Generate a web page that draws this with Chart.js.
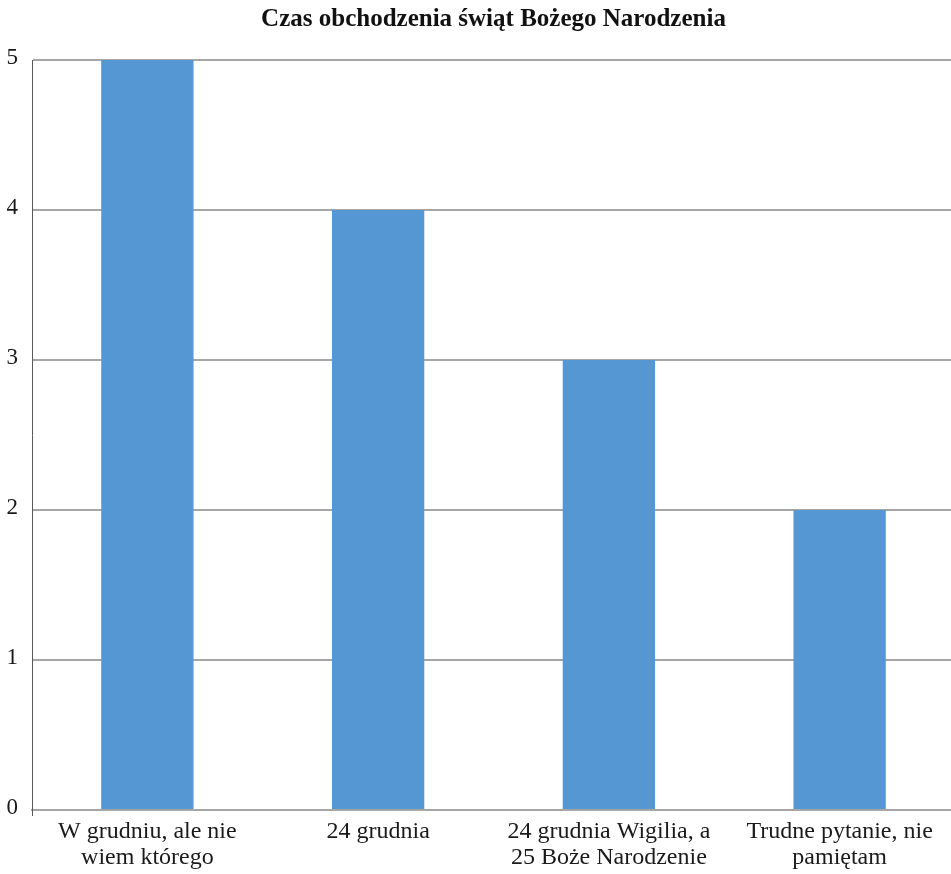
<!DOCTYPE html>
<html lang="pl">
<head>
<meta charset="utf-8">
<title>Czas obchodzenia świąt Bożego Narodzenia</title>
<script src="https://cdn.jsdelivr.net/npm/chart.js@4/dist/chart.umd.min.js"></script>
<style>
  html, body { margin: 0; padding: 0; background: #ffffff; overflow: hidden; }
  #wrap { width: 955px; height: 874px; }
</style>
</head>
<body>
<div id="wrap"><canvas id="chart" width="955" height="874"></canvas></div>
<script>
// Survey answers and their counts
const categories = [
  ['W grudniu, ale nie', 'wiem którego'],
  ['24 grudnia'],
  ['24 grudnia Wigilia, a', '25 Boże Narodzenie'],
  ['Trudne pytanie, nie', 'pamiętam']
];
const counts = [5, 4, 3, 2];
const chartTitle = 'Czas obchodzenia świąt Bożego Narodzenia';

const serif = "'Liberation Serif', 'Times New Roman', serif";

// Centre the title over the plot area rather than the whole canvas
const titleOverPlot = {
  id: 'titleOverPlot',
  afterLayout(chart) {
    const t = chart.titleBlock;
    if (t) {
      t.left = chart.chartArea.left;
      t.right = chart.chartArea.right;
      t.width = t.right - t.left;
    }
  }
};

new Chart(document.getElementById('chart'), {
  type: 'bar',
  data: {
    labels: categories,
    datasets: [{
      data: counts,
      backgroundColor: '#5597d3',
      borderWidth: 0,
      categoryPercentage: 1,
      barPercentage: 0.4
    }]
  },
  options: {
    responsive: false,
    animation: false,
    layout: { padding: 0 },
    plugins: {
      legend: { display: false },
      tooltip: { enabled: false },
      title: {
        display: true,
        text: chartTitle,
        color: '#111111',
        font: { family: serif, size: 25, weight: 'bold', lineHeight: 1.2 },
        padding: { top: 5, bottom: 25 }
      }
    },
    scales: {
      x: {
        offset: true,
        border: { display: true, color: '#a6a6a6', width: 2 },
        grid: {
          offset: true,
          drawOnChartArea: false,
          drawTicks: true,
          tickLength: 6,
          color: (ctx) => ctx.index === 0 ? '#595959' : 'rgba(0,0,0,0)',
          lineWidth: 1
        },
        ticks: {
          color: '#1a1a1a',
          font: { family: serif, size: 24, lineHeight: 1.08 },
          padding: 3,
          maxRotation: 0,
          autoSkip: false
        },
        afterFit(scale) { scale.height = 64; }
      },
      y: {
        min: 0,
        max: 5,
        border: { display: true, color: '#595959', width: 1 },
        grid: {
          color: '#a6a6a6',
          lineWidth: 2,
          drawTicks: false
        },
        ticks: {
          stepSize: 1,
          color: '#1a1a1a',
          font: { family: serif, size: 23 },
          padding: 14,
          labelOffset: -2
        },
        afterFit(scale) { scale.width = 32; }
      }
    }
  },
  plugins: [titleOverPlot]
});
</script>
</body>
</html>
